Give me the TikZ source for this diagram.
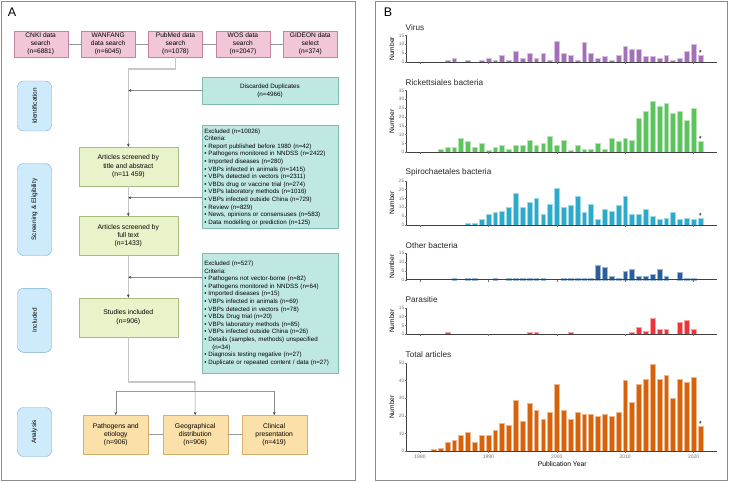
\documentclass[tikz,border=0pt]{standalone}
\usepackage{fontspec}
\setmainfont{Liberation Sans}
\usetikzlibrary{positioning,arrows.meta,calc}
\definecolor{srcfill}{RGB}{240,198,216}
\definecolor{srcdraw}{RGB}{196,130,158}
\definecolor{exfill}{RGB}{192,232,227}
\definecolor{exdraw}{RGB}{128,188,180}
\definecolor{stfill}{RGB}{233,243,202}
\definecolor{stdraw}{RGB}{168,188,128}
\definecolor{anfill}{RGB}{252,224,170}
\definecolor{andraw}{RGB}{214,174,110}
\definecolor{phfill}{RGB}{206,235,251}
\definecolor{phdraw}{RGB}{120,170,210}
\definecolor{virus}{RGB}{163,112,184}
\definecolor{rick}{RGB}{92,196,92}
\definecolor{spiro}{RGB}{44,170,202}
\definecolor{othb}{RGB}{44,94,156}
\definecolor{para}{RGB}{238,52,58}
\definecolor{total}{RGB}{214,98,10}
\tikzset{
  src/.style={draw=srcdraw, fill=srcfill, minimum width=54pt, minimum height=26pt, inner sep=1pt, align=center, font=\fontsize{6.6}{8.2}\selectfont},
  stage/.style={draw=stdraw, fill=stfill, minimum width=99pt, minimum height=39pt, inner sep=1pt, align=center, font=\fontsize{6.8}{8.3}\selectfont},
  outc/.style={draw=andraw, fill=anfill, minimum width=65pt, minimum height=39pt, inner sep=1pt, align=center, font=\fontsize{6.8}{8.3}\selectfont},
  dupbox/.style={draw=exdraw, fill=exfill, minimum width=136pt, minimum height=27pt, inner sep=1pt, align=center, font=\fontsize{6.3}{8}\selectfont},
  excl/.style={draw=exdraw, fill=exfill, text width=131.5pt, inner xsep=2.25pt, inner ysep=3pt, align=left, font=\fontsize{6.2}{7.6}\selectfont},
  phase/.style={draw=phdraw, fill=phfill, rounded corners=6pt, rotate=90, minimum height=34pt, inner sep=1pt, font=\fontsize{6.4}{7}\selectfont},
  link/.style={draw=black!40, line width=0.6pt},
  flow/.style={draw=black!22, line width=1.6pt},
  arr/.style={draw=black!45, line width=0.6pt, -{Stealth[length=3pt,width=2.8pt,color=black!75]}},
  panel/.style={draw=black!45, line width=0.8pt},
  plab/.style={inner sep=0pt, font=\fontsize{12.5}{13}\selectfont},
  ctitle/.style={anchor=west, inner sep=0pt, text=black!85, font=\fontsize{8.2}{9}\selectfont},
  numlab/.style={rotate=90, inner sep=0pt, font=\fontsize{6.6}{7}\selectfont},
  ticklab/.style={inner sep=0.8pt, text=black!55, font=\fontsize{4.8}{5}\selectfont},
  axis/.style={draw=black!75, line width=0.7pt},
  tick/.style={draw=black!55, line width=0.4pt},
  bar/.style={fill=#1, draw=#1!45!white, line width=0.4pt},
  astr/.style={inner sep=0pt, font=\fontsize{7.5}{8}\selectfont},
}
\begin{document}
\begin{tikzpicture}[x=1pt,y=-1pt]
\useasboundingbox (0,0) rectangle (729,482);
\draw[panel] (1.5,1.5) rectangle (355,480.5);
\draw[panel] (375.7,1.5) rectangle (727.5,480.5);
\node[plab] (pa) at (12,12) {A};
\node[plab] (pb) at (388,12) {B};

\node[src] (cnki) at (40.7,44) {CNKI data\\search\\(n=6881)};
\node[src, right=13pt of cnki] (wanfang) {WANFANG\\data search\\(n=6045)};
\node[src, right=13pt of wanfang] (pubmed) {PubMed data\\search\\(n=1078)};
\node[src, right=13pt of pubmed] (wos) {WOS data\\search\\(n=2047)};
\node[src, right=13pt of wos] (gideon) {GIDEON data\\select\\(n=374)};
\draw[link] (cnki) -- (wanfang);
\draw[link] (wanfang) -- (pubmed);
\draw[link] (pubmed) -- (wos);
\draw[link] (wos) -- (gideon);

\node[phase, minimum width=50pt] (idn) at (34.5,106) {Identification};
\node[phase, minimum width=92pt] (scr) at (34.5,209.5) {Screening \& Eligibility};
\node[phase, minimum width=64pt] (inc) at (34.5,320.3) {Included};
\node[phase, minimum width=49pt] (ana) at (34.5,432) {Analysis};

\node[stage] (title) at (128.3,166.4) {Articles screened by\\title and abstract\\(n=11 459)};
\node[stage, below=30pt of title] (full) {Articles screened by\\full text\\(n=1433)};
\node[stage, below=42pt of full] (studies) {Studies included\\(n=906)};
\node[outc] (path) at (115.8,434.7) {Pathogens and\\etiology\\(n=906)};
\node[outc, right=14pt of path] (geo) {Geographical\\distribution\\(n=906)};
\node[outc, right=13.6pt of geo] (clin) {Clinical\\presentation\\(n=419)};
\draw[link] (path) -- (geo);
\draw[link] (geo) -- (clin);

\node[dupbox] (dup) at (270,90.5) {Discarded Duplicates\\(n=4966)};
\node[excl, minimum height=102pt] (ex1) at (270,177) {Excluded (n=10026)\\
Criteria:\\
\textbullet\ Report published before 1980 (n=42)\\
\textbullet\ Pathogens monitored in NNDSS (n=2422)\\
\textbullet\ Imported diseases (n=280)\\
\textbullet\ VBPs infected in animals (n=1415)\\
\textbullet\ VBPs detected in vectors (n=2311)\\
\textbullet\ VBDs drug or vaccine trial (n=274)\\
\textbullet\ VBPs laboratory methods (n=1016)\\
\textbullet\ VBPs infected outside China (n=729)\\
\textbullet\ Review (n=829)\\
\textbullet\ News, opinions or consensuses (n=583)\\
\textbullet\ Data modelling or prediction (n=125)};
\node[excl, minimum height=120pt] (ex2) at (270,313.3) {Excluded (n=527)\\
Criteria:\\
\textbullet\ Pathogens not vector-borne (n=82)\\
\textbullet\ Pathogens monitored in NNDSS (n=64)\\
\textbullet\ Imported diseases (n=15)\\
\textbullet\ VBPs infected in animals (n=69)\\
\textbullet\ VBPs detected in vectors (n=78)\\
\textbullet\ VBDs Drug trial (n=20)\\
\textbullet\ VBPs laboratory methods (n=85)\\
\textbullet\ VBPs infected outside China (n=26)\\
\textbullet\ Details (samples, methods) unspecified\\
\hspace*{8pt}(n=34)\\
\textbullet\ Diagnosis testing negative (n=27)\\
\textbullet\ Duplicate or repeated content / data (n=27)};

\coordinate (trunk) at (128.3,69);
\coordinate (split) at (195,381.7);
\coordinate (fork) at (195,391);
\coordinate (e1) at ([yshift=-20.7pt]ex1.west);
\coordinate (e2) at ([yshift=36pt]ex2.west);
\draw[flow] (pubmed.south) |- (trunk);
\draw[flow] (trunk) -- (title.north);
\draw[flow] (title.south) -- (full.north);
\draw[flow] (full.south) -- (studies.north);
\draw[flow] (studies.south) |- (split);
\draw[arr] (trunk |- title.north) ++(0,-4) -- (title.north);
\draw[arr] (full.north) ++(0,-4) -- (full.north);
\draw[arr] (studies.north) ++(0,-4) -- (studies.north);
\draw[arr] (dup.west) -- (dup.west -| trunk);
\draw[arr] (e1) -- (e1 -| trunk);
\draw[arr] (e2) -- (e2 -| trunk);
\draw[arr] (split) -- (geo.north);
\draw[link] (path.north |- fork) -- (clin.north |- fork);
\draw[arr] (path.north |- fork) -- (path.north);
\draw[arr] (clin.north |- fork) -- (clin.north);

\foreach \ttl/\base/\nmax/\tstep/\col/\mk/\vals in {
  Virus/62/15/5/virus/4/{0,0,0,0,1,2,0,1,0,1,2,1,4,1,6,2,5,2,5,1,12,5,4,1,11,5,2,3,1,4,9,7,7,3,3,2,4,1,2,6,10,4},
  Rickettsiales bacteria/152.3/35/5/rick/6/{0,0,0,2,3,3,8,6,3,5,1,3,4,2,4,4,7,4,5,9,4,7,1,4,2,2,5,2,8,6,8,7,19,23,29,26,28,22,23,18,25,6},
  Spirochaetales bacteria/225/25/5/spiro/4/{0,0,0,0,0,0,0,1,1,3,6,7,8,10,18,10,13,15,6,12,21,10,11,16,7,12,3,9,8,11,16,6,6,9,5,3,4,7,3,4,3,4},
  Other bacteria/279.7/15/5/othb/0/{0,0,0,0,0,1,0,1,1,0,0,1,0,1,1,1,1,1,1,0,0,1,1,1,1,1,8,7,2,1,5,6,2,2,3,6,2,0,4,1,1,0},
  Parasitie/334.3/15/5/para/0/{0,0,0,0,1,0,0,0,0,0,0,0,0,0,0,0,1,1,0,0,0,0,1,0,0,0,0,0,0,0,0,1,4,2,9,3,3,0,7,8,3,0},
  Total articles/451.3/50/10/total/14/{0,0,1,2,5,6,9,11,5,9,9,12,16,15,29,17,27,23,18,22,38,23,18,22,21,21,20,21,20,22,40,28,38,41,49,41,43,30,41,39,42,14}}{
  \node[ctitle] (ttl-\col) at (405.5,{\base-\nmax*1.77-8}) {\ttl};
  \node[numlab] (num-\col) at (391.7,{\base-\nmax*0.885}) {Number};
  \foreach \v [count=\i from 0] in \vals {
    \ifnum\v>0 \draw[bar=\col] ({420+6.84*\i-2.4},\base) rectangle ++(4.8,{-\v*1.77}); \fi
  }
  \draw[axis] (406.7,{\base-\nmax*1.77}) -- (406.7,\base) -- (717,\base);
  \foreach \t in {0,\tstep,...,\nmax}
    \draw[tick] (406.7,{\base-\t*1.77}) -- ++(-1.5,0) node[ticklab, left] (yl-\col-\t) {\t};
  \foreach \yr in {1980,1990,...,2020}
    \draw[tick] ({420+6.84*(\yr-1980)},\base) -- ++(0,2);
  \ifnum\mk>0 \node[astr] (ast-\col) at (700.4,{\base-\mk*1.77-2.5}) {*}; \fi
}
\foreach \yr in {1980,1990,...,2020}
  \node[ticklab, font=\fontsize{5}{6}\selectfont] (xl-\yr) at ({420+6.84*(\yr-1980)},456.5) {\yr};
\node[inner sep=0pt, font=\fontsize{6.8}{8}\selectfont] (xtitle) at (562.3,464.3) {Publication Year};
\end{tikzpicture}
\end{document}
